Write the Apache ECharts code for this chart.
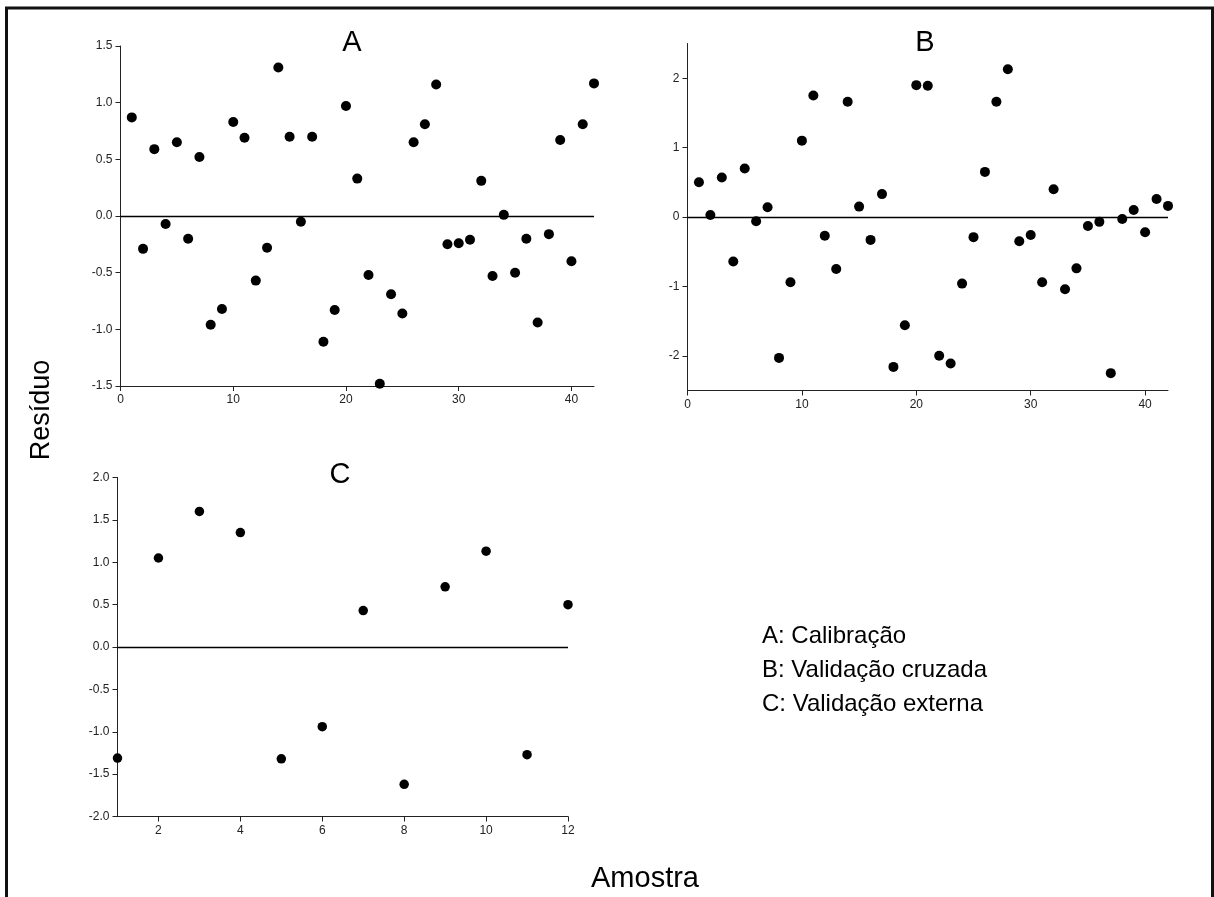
<!DOCTYPE html>
<html>
<head>
<meta charset="utf-8">
<script src="https://cdn.jsdelivr.net/npm/echarts@6/dist/echarts.min.js"></script>
<style>
  html, body { margin: 0; padding: 0; background: #fff; }
  #chart { width: 1214px; height: 897px; }
</style>
</head>
<body>
<div id="chart"></div>
<script>
// Sample numbers and residuals for each model stage
const samplesAB = [1,2,3,4,5,6,7,8,9,10,11,12,13,14,15,16,17,18,19,20,21,
                   22,23,24,25,26,27,28,29,30,31,32,33,34,35,36,37,38,39,40,41,42];
const residCalibracao = [0.87,-0.29,0.59,-0.07,0.65,-0.20,0.52,-0.96,-0.82,0.83,0.69,
                         -0.57,-0.28,1.31,0.70,-0.05,0.70,-1.11,-0.83,0.97,0.33,
                         -0.52,-1.48,-0.69,-0.86,0.65,0.81,1.16,-0.25,-0.24,-0.21,
                         0.31,-0.53,0.01,-0.50,-0.20,-0.94,-0.16,0.67,-0.40,0.81,1.17];
const residCruzada = [0.50,0.03,0.57,-0.64,0.70,-0.06,0.14,-2.03,-0.94,1.10,1.75,
                      -0.27,-0.75,1.66,0.15,-0.33,0.33,-2.16,-1.56,1.90,1.89,
                      -2.00,-2.11,-0.96,-0.29,0.65,1.66,2.13,-0.35,-0.26,-0.94,
                      0.40,-1.04,-0.74,-0.13,-0.07,-2.25,-0.03,0.10,-0.22,0.26,0.16];
const samplesC = [1,2,3,4,5,6,7,8,9,10,11,12];
const residExterna = [-1.31,1.05,1.60,1.35,-1.32,-0.94,0.43,-1.62,0.71,1.13,-1.27,0.50];

const ticksAB = [0,10,20,30,40];
const ticksYB = [-2,-1,0,1,2];
const ticksC = [2,4,6,8,10,12];

const panelTitles = ['A', 'B', 'C'];
const legendLines = ['A: Calibração', 'B: Validação cruzada', 'C: Validação externa'];
const yName = 'Resíduo';
const xName = 'Amostra';

const FONT = "'Liberation Sans', Arial, sans-serif";
const AXIS_COLOR = '#222';

function zip(xs, ys) { return xs.map((x, i) => [x, ys[i]]); }

function xAxisDef(gridIndex, min, max, ticks) {
  return {
    type: 'value', gridIndex, min, max,
    splitLine: { show: false },
    axisLine: { show: true, onZero: false, lineStyle: { color: AXIS_COLOR, width: 1 } },
    axisTick: { show: true, length: 5, customValues: ticks, lineStyle: { color: AXIS_COLOR } },
    axisLabel: { customValues: ticks, color: '#222', fontSize: 12, fontFamily: FONT, margin: 8 }
  };
}
function yAxisDef(gridIndex, min, max, opts) {
  return Object.assign({
    type: 'value', gridIndex, min, max,
    splitLine: { show: false },
    axisLine: { show: true, onZero: false, lineStyle: { color: AXIS_COLOR, width: 1 } },
    axisTick: { show: true, length: 5, lineStyle: { color: AXIS_COLOR } },
    axisLabel: { color: '#222', fontSize: 12, fontFamily: FONT, margin: 8 }
  }, opts || {});
}
const zeroLine = {
  silent: true, symbol: 'none', label: { show: false },
  lineStyle: { color: '#000', width: 1.3, type: 'solid' },
  data: [{ yAxis: 0 }]
};
function dots(idx, data, size) {
  return {
    type: 'scatter', xAxisIndex: idx, yAxisIndex: idx, data,
    symbol: 'circle', symbolSize: size,
    itemStyle: { color: '#000', opacity: 1 },
    markLine: zeroLine, animation: false
  };
}

const chart = echarts.init(document.getElementById('chart'), null, { renderer: 'canvas' });
chart.setOption({
  backgroundColor: '#fff',
  animation: false,
  grid: [
    { left: 120.5, top: 46, width: 473.5, height: 340 },
    { left: 687.5, top: 43.5, width: 480.5, height: 347 },
    { left: 117.5, top: 477.5, width: 450.5, height: 339 }
  ],
  xAxis: [
    xAxisDef(0, 0, 42, ticksAB),
    xAxisDef(1, 0, 42, ticksAB),
    xAxisDef(2, 1, 12, ticksC)
  ],
  yAxis: [
    yAxisDef(0, -1.5, 1.5, { interval: 0.5, axisLabel: { color: '#222', fontSize: 12, fontFamily: FONT, margin: 8, formatter: v => v.toFixed(1) } }),
    yAxisDef(1, -2.5, 2.5, {
      axisTick: { show: true, length: 5, customValues: ticksYB, lineStyle: { color: AXIS_COLOR } },
      axisLabel: { customValues: ticksYB, color: '#222', fontSize: 12, fontFamily: FONT, margin: 8 }
    }),
    yAxisDef(2, -2, 2, { interval: 0.5, axisLabel: { color: '#222', fontSize: 12, fontFamily: FONT, margin: 8, formatter: v => v.toFixed(1) } })
  ],
  series: [
    dots(0, zip(samplesAB, residCalibracao), 10),
    dots(1, zip(samplesAB, residCruzada), 10),
    dots(2, zip(samplesC, residExterna), 9.5)
  ],
  graphic: [
    // outer frame (left, top, right)
    { type: 'polyline', silent: true,
      shape: { points: [[6.5, 897], [6.5, 8], [1212.5, 8], [1212.5, 897]] },
      style: { stroke: '#111', lineWidth: 3, fill: null } },
    { type: 'text', x: 352, y: 43,
      style: { text: panelTitles[0], font: "29px " + FONT, fill: '#000', align: 'center', verticalAlign: 'middle' } },
    { type: 'text', x: 925, y: 43,
      style: { text: panelTitles[1], font: "29px " + FONT, fill: '#000', align: 'center', verticalAlign: 'middle' } },
    { type: 'text', x: 340, y: 475,
      style: { text: panelTitles[2], font: "29px " + FONT, fill: '#000', align: 'center', verticalAlign: 'middle' } },
    { type: 'text', x: 42, y: 410, rotation: Math.PI / 2,
      style: { text: yName, font: "27px " + FONT, fill: '#000', align: 'center', verticalAlign: 'middle' } },
    { type: 'text', x: 645, y: 879,
      style: { text: xName, font: "29px " + FONT, fill: '#000', align: 'center', verticalAlign: 'middle' } },
    { type: 'text', x: 762, y: 636,
      style: { text: legendLines[0], font: "24px " + FONT, fill: '#000', verticalAlign: 'middle' } },
    { type: 'text', x: 762, y: 670,
      style: { text: legendLines[1], font: "24px " + FONT, fill: '#000', verticalAlign: 'middle' } },
    { type: 'text', x: 762, y: 704,
      style: { text: legendLines[2], font: "24px " + FONT, fill: '#000', verticalAlign: 'middle' } }
  ]
});
</script>
</body>
</html>
